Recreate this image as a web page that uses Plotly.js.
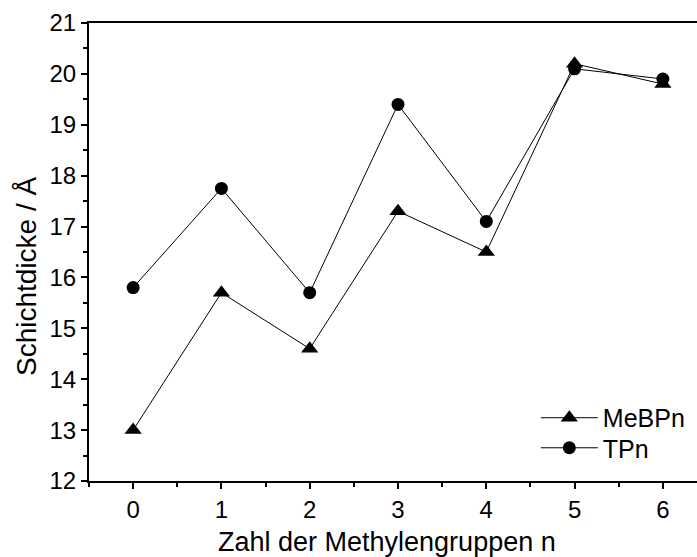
<!DOCTYPE html>
<html>
<head>
<meta charset="utf-8">
<script src="https://cdn.plot.ly/plotly-3.0.1.min.js"></script>
<style>html,body{margin:0;padding:0;overflow:hidden;background:#fff;}</style>
</head>
<body>
<div id="chart" style="width:720px;height:557px;"></div>
<script>
const nValues = [0, 1, 2, 3, 4, 5, 6];
const meBPn = [13.0, 15.7, 14.6, 17.3, 16.5, 20.2, 19.8];
const tPn = [15.8, 17.75, 15.7, 19.4, 17.1, 20.1, 19.9];
const seriesNames = ['MeBPn', 'TPn'];
const xTitle = 'Zahl der Methylengruppen n';
const yTitle = 'Schichtdicke / Å';

const font = 'Liberation Sans, Arial, sans-serif';

const traces = [
  {x: nValues, y: meBPn, name: seriesNames[0], mode: 'lines+markers', type: 'scatter', legend: 'legend',
   line: {color: '#000', width: 1}, marker: {symbol: 'triangle-up', size: 15, color: '#000'}},
  {x: nValues, y: tPn, name: seriesNames[1], mode: 'lines+markers', type: 'scatter', legend: 'legend2',
   line: {color: '#000', width: 1}, marker: {symbol: 'circle', size: 13, color: '#000'}}
];

const legendBase = {x: 0.723, xanchor: 'left', yanchor: 'middle', bgcolor: 'rgba(0,0,0,0)',
  font: {family: font, size: 25, color: '#000'}, itemwidth: 57};

const layout = {
  width: 720, height: 557,
  margin: {l: 89, r: 13, t: 23, b: 76},
  paper_bgcolor: '#fff', plot_bgcolor: '#fff',
  font: {family: font, color: '#000', size: 24},
  showlegend: true,
  legend: Object.assign({}, legendBase, {y: 0.1376}),
  legend2: Object.assign({}, legendBase, {y: 0.072}),
  xaxis: {
    range: [-0.5, 6.5], tickmode: 'array', tickvals: nValues, ticktext: nValues.map(String),
    showgrid: false, zeroline: false, showline: true, linecolor: '#000', linewidth: 2, mirror: true,
    ticks: 'outside', ticklen: 6, tickwidth: 2, tickcolor: '#000',
    minor: {dtick: 0.5, tick0: 0.5, ticks: 'outside', ticklen: 4, tickwidth: 2, tickcolor: '#000', showgrid: false},
    tickfont: {family: font, size: 24, color: '#000'}
  },
  yaxis: {
    range: [12, 21], dtick: 1, tick0: 12,
    showgrid: false, zeroline: false, showline: true, linecolor: '#000', linewidth: 2, mirror: true,
    ticks: 'outside', ticklen: 6, tickwidth: 2, tickcolor: '#000',
    minor: {dtick: 0.5, tick0: 12.5, ticks: 'outside', ticklen: 4, tickwidth: 2, tickcolor: '#000', showgrid: false},
    tickfont: {family: font, size: 24, color: '#000'}
  },
  annotations: [
    {text: xTitle, xref: 'paper', yref: 'paper', x: 0.482, y: -0.133, xanchor: 'center', yanchor: 'middle',
     showarrow: false, font: {family: font, size: 27, color: '#000'}},
    {text: yTitle, xref: 'paper', yref: 'paper', x: -0.1003, y: 0.4476, xanchor: 'center', yanchor: 'middle',
     textangle: -90, showarrow: false, font: {family: font, size: 28, color: '#000'}}
  ]
};

Plotly.newPlot('chart', traces, layout, {displayModeBar: false, staticPlot: true});
</script>
</body>
</html>
